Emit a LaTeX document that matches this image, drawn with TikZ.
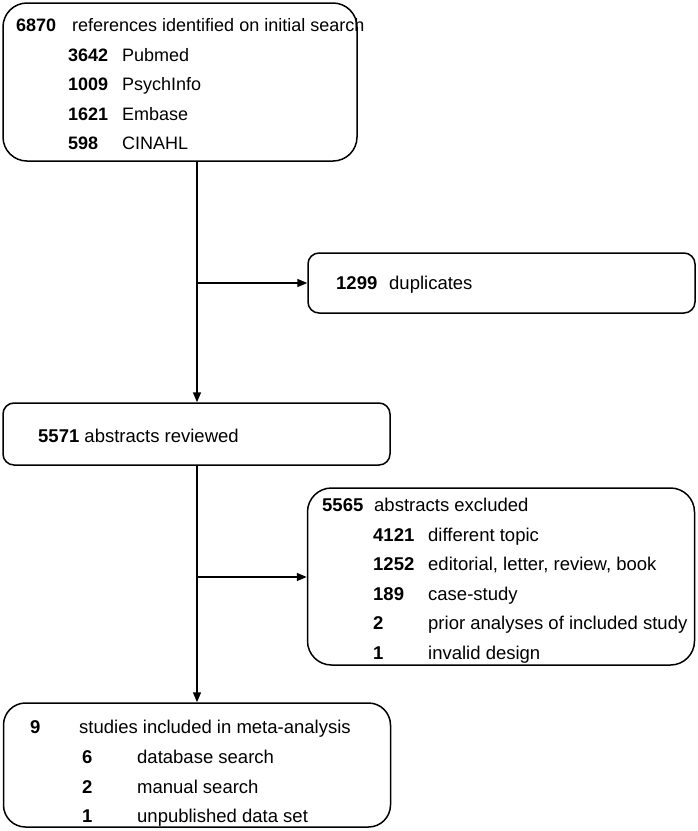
\documentclass[tikz,border=0pt]{standalone}
\usepackage{fontspec}
\setmainfont{Liberation Sans}
\usetikzlibrary{arrows.meta}
\begin{document}
\begin{tikzpicture}[x=1pt,y=-1pt,
  box/.style={draw=black,line width=1.5pt,rectangle,inner sep=0pt,fill=white},
  txt/.style={anchor=base west,inner sep=0pt,font=\fontsize{18.5}{20}\selectfont},
  num/.style={txt,font=\fontsize{18.5}{20}\selectfont\bfseries},
  txta/.style={anchor=base west,inner sep=0pt,font=\fontsize{18}{20}\selectfont},
  numa/.style={txta,font=\fontsize{18}{20}\selectfont\bfseries},
  conn/.style={line width=1.5pt},
  arr/.style={conn,-{Triangle[length=10pt,width=8pt]}}]
\useasboundingbox (0,0) rectangle (698,831);
% boxes
\node[box,rounded corners=24pt,minimum width=354pt,minimum height=158pt] (b1) at (180,82) {};
\node[box,rounded corners=11pt,minimum width=387pt,minimum height=60pt] (dup) at (501.5,283) {};
\node[box,rounded corners=11pt,minimum width=387pt,minimum height=62pt] (b2) at (196.5,434) {};
\node[box,rounded corners=24pt,minimum width=387pt,minimum height=177pt] (b3) at (501,576.5) {};
\node[box,rounded corners=22pt,minimum width=387pt,minimum height=124pt] (b4) at (197,765) {};
% box 1 text
\node[numa] (n1) at (16,31.5) {6870};
\node[txta] (t1) at (72,31.5) {references identified on initial search};
\node[numa] (n11) at (68,61) {3642};
\node[txta] (t11) at (122,61) {Pubmed};
\node[numa] (n12) at (68,90.5) {1009};
\node[txta] (t12) at (122,90.5) {PsychInfo};
\node[numa] (n13) at (68,120) {1621};
\node[txta] (t13) at (122,120) {Embase};
\node[numa] (n14) at (68,149.5) {598};
\node[txta] (t14) at (122,149.5) {CINAHL};
% duplicates
\node[num] (nd) at (336,289.5) {1299};
\node[txt] (td) at (389,289.5) {duplicates};
% box 2
\node[txt] (t2) at (38,442.5) {\textbf{5571} abstracts reviewed};
% box 3
\node[num] (n3) at (322,511.5) {5565};
\node[txt] (t3) at (374,511.5) {abstracts excluded};
\node[num] (n31) at (373,541) {4121};
\node[txt] (t31) at (428,541) {different topic};
\node[num] (n32) at (373,570.5) {1252};
\node[txt] (t32) at (428,570.5) {editorial, letter, review, book};
\node[num] (n33) at (373,600) {189};
\node[txt] (t33) at (428,600) {case-study};
\node[num] (n34) at (373,629.5) {2};
\node[txt] (t34) at (428,629.5) {prior analyses of included study};
\node[num] (n35) at (373,659) {1};
\node[txt] (t35) at (428,659) {invalid design};
% box 4
\node[num] (n4) at (30,733.5) {9};
\node[txt] (t4) at (79,733.5) {studies included in meta-analysis};
\node[num] (n41) at (82,763.5) {6};
\node[txt] (t41) at (137,763.5) {database search};
\node[num] (n42) at (82,793.5) {2};
\node[txt] (t42) at (137,793.5) {manual search};
\node[num] (n43) at (82,822.5) {1};
\node[txt] (t43) at (137,822.5) {unpublished data set};
% connectors
\coordinate (j1) at (197,283);
\coordinate (j2) at (197,577);
\draw[arr] (b1.south -| j1) -- (b2.north -| j1);
\draw[arr] (j1) -- (dup.west);
\draw[arr] (b2.south -| j2) -- (b4.north -| j2);
\draw[arr] (j2) -- (b3.west |- j2);
\end{tikzpicture}
\end{document}
